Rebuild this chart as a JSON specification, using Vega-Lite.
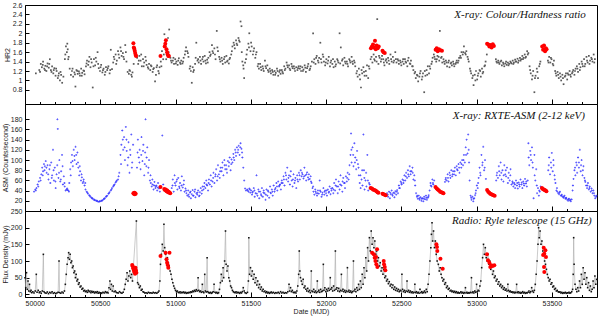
{
"$schema": "https://vega.github.io/schema/vega-lite/v6.json",
"padding": {"left": 0, "top": 0, "right": 2, "bottom": 1},
"spacing": 0,
"bounds": "flush",
"config": {
  "view": {"stroke": "black", "strokeWidth": 1},
  "concat": {"spacing": 0},
  "axis": {"labelFont": "Liberation Sans", "labelFontSize": 7, "titleFont": "Liberation Sans", "titleFontSize": 7, "titleFontWeight": "normal", "domain": false, "grid": false, "tickColor": "black", "labelColor": "#222", "titleColor": "#222"},
  "axisY": {"minExtent": 0}
},
"datasets": {
"hr": [{"t":50072,"v":1.15},{"t":50095,"v":1.22},{"t":50105,"v":1.35},{"t":50112,"v":1.28},{"t":50120,"v":1.4},{"t":50128,"v":1.25},{"t":50135,"v":1.31},{"t":50142,"v":1.2},{"t":50150,"v":1.36},{"t":50158,"v":1.27},{"t":50165,"v":1.45},{"t":50172,"v":1.22},{"t":50180,"v":1.3},{"t":50188,"v":1.15},{"t":50195,"v":1.26},{"t":50203,"v":1.1},{"t":50210,"v":1.2},{"t":50218,"v":1.05},{"t":50225,"v":1.15},{"t":50232,"v":1.0},{"t":50240,"v":1.12},{"t":50247,"v":0.95},{"t":50255,"v":1.08},{"t":50265,"v":1.45},{"t":50272,"v":1.72},{"t":50278,"v":1.6},{"t":50284,"v":1.66},{"t":50290,"v":1.5},{"t":50297,"v":1.25},{"t":50305,"v":1.12},{"t":50312,"v":1.2},{"t":50320,"v":1.08},{"t":50328,"v":1.17},{"t":50335,"v":0.87},{"t":50342,"v":1.22},{"t":50350,"v":1.14},{"t":50358,"v":1.19},{"t":50365,"v":1.1},{"t":50373,"v":1.25},{"t":50380,"v":1.16},{"t":50388,"v":1.21},{"t":50396,"v":1.13},{"t":50405,"v":1.3},{"t":50412,"v":1.42},{"t":50420,"v":1.33},{"t":50428,"v":1.5},{"t":50435,"v":1.28},{"t":50443,"v":1.38},{"t":50450,"v":0.85},{"t":50458,"v":1.45},{"t":50466,"v":1.32},{"t":50474,"v":1.4},{"t":50482,"v":1.6},{"t":50490,"v":1.26},{"t":50498,"v":1.2},{"t":50506,"v":1.33},{"t":50514,"v":1.17},{"t":50522,"v":1.25},{"t":50530,"v":1.12},{"t":50538,"v":1.28},{"t":50546,"v":1.22},{"t":50554,"v":1.3},{"t":50562,"v":1.15},{"t":50570,"v":1.65},{"t":50578,"v":1.24},{"t":50586,"v":1.38},{"t":50594,"v":1.45},{"t":50602,"v":1.55},{"t":50610,"v":1.42},{"t":50618,"v":1.62},{"t":50626,"v":1.48},{"t":50634,"v":1.7},{"t":50642,"v":1.52},{"t":50650,"v":1.58},{"t":50658,"v":1.45},{"t":50666,"v":1.75},{"t":50674,"v":1.4},{"t":50682,"v":1.18},{"t":50690,"v":1.14},{"t":50698,"v":1.2},{"t":50706,"v":1.12},{"t":50714,"v":1.17},{"t":50722,"v":1.35},{"t":50745,"v":1.48},{"t":50752,"v":1.35},{"t":50760,"v":1.52},{"t":50768,"v":1.42},{"t":50776,"v":1.3},{"t":50784,"v":1.45},{"t":50792,"v":1.38},{"t":50800,"v":1.5},{"t":50808,"v":1.33},{"t":50816,"v":1.28},{"t":50824,"v":1.35},{"t":50832,"v":1.22},{"t":50840,"v":1.3},{"t":50848,"v":1.18},{"t":50856,"v":1.26},{"t":50864,"v":0.98},{"t":50870,"v":1.12},{"t":50878,"v":1.32},{"t":50886,"v":1.2},{"t":50894,"v":1.28},{"t":50902,"v":1.4},{"t":50910,"v":1.62},{"t":50918,"v":1.45},{"t":50926,"v":1.98},{"t":50934,"v":1.72},{"t":50942,"v":1.55},{"t":50950,"v":1.9},{"t":50958,"v":2.08},{"t":50966,"v":1.48},{"t":50974,"v":1.38},{"t":50982,"v":1.42},{"t":50990,"v":1.35},{"t":50998,"v":1.45},{"t":51006,"v":1.4},{"t":51014,"v":1.33},{"t":51022,"v":1.47},{"t":51030,"v":1.38},{"t":51038,"v":1.42},{"t":51046,"v":1.36},{"t":51054,"v":1.48},{"t":51062,"v":1.55},{"t":51070,"v":1.7},{"t":51078,"v":1.62},{"t":51086,"v":1.5},{"t":51094,"v":1.25},{"t":51102,"v":1.2},{"t":51108,"v":0.95},{"t":51114,"v":1.28},{"t":51122,"v":1.22},{"t":51130,"v":1.35},{"t":51138,"v":1.8},{"t":51146,"v":1.42},{"t":51154,"v":1.38},{"t":51162,"v":1.5},{"t":51170,"v":1.35},{"t":51178,"v":1.45},{"t":51186,"v":1.4},{"t":51194,"v":1.52},{"t":51202,"v":1.36},{"t":51210,"v":1.44},{"t":51218,"v":1.48},{"t":51226,"v":1.6},{"t":51234,"v":1.55},{"t":51242,"v":1.75},{"t":51250,"v":1.58},{"t":51258,"v":1.68},{"t":51266,"v":1.45},{"t":51274,"v":2.05},{"t":51282,"v":1.62},{"t":51290,"v":1.5},{"t":51298,"v":1.4},{"t":51306,"v":1.48},{"t":51314,"v":1.35},{"t":51322,"v":1.45},{"t":51330,"v":1.38},{"t":51338,"v":1.52},{"t":51346,"v":1.42},{"t":51354,"v":1.36},{"t":51362,"v":1.48},{"t":51370,"v":1.55},{"t":51378,"v":1.72},{"t":51386,"v":1.8},{"t":51394,"v":1.68},{"t":51402,"v":1.85},{"t":51410,"v":1.75},{"t":51418,"v":1.9},{"t":51426,"v":1.82},{"t":51432,"v":2.25},{"t":51438,"v":2.15},{"t":51444,"v":1.4},{"t":51450,"v":1.32},{"t":51456,"v":1.05},{"t":51462,"v":1.38},{"t":51468,"v":1.45},{"t":51476,"v":1.65},{"t":51484,"v":1.78},{"t":51490,"v":2.0},{"t":51498,"v":1.62},{"t":51506,"v":1.72},{"t":51514,"v":1.55},{"t":51522,"v":1.68},{"t":51530,"v":1.48},{"t":51538,"v":1.6},{"t":51546,"v":1.3},{"t":51554,"v":1.25},{"t":51562,"v":1.35},{"t":51570,"v":1.22},{"t":51578,"v":1.3},{"t":51586,"v":1.2},{"t":51594,"v":1.42},{"t":51602,"v":1.26},{"t":51610,"v":1.32},{"t":51618,"v":1.18},{"t":51626,"v":1.25},{"t":51634,"v":1.15},{"t":51642,"v":1.22},{"t":51650,"v":1.12},{"t":51658,"v":1.2},{"t":51666,"v":1.16},{"t":51674,"v":1.25},{"t":51682,"v":1.1},{"t":51690,"v":1.18},{"t":51698,"v":1.14},{"t":51706,"v":1.22},{"t":51714,"v":1.15},{"t":51722,"v":1.3},{"t":51730,"v":1.25},{"t":51738,"v":1.38},{"t":51746,"v":1.28},{"t":51754,"v":1.32},{"t":51762,"v":1.22},{"t":51770,"v":1.35},{"t":51778,"v":1.26},{"t":51786,"v":1.3},{"t":51794,"v":1.2},{"t":51802,"v":1.28},{"t":51810,"v":1.22},{"t":51818,"v":1.3},{"t":51826,"v":1.25},{"t":51834,"v":1.2},{"t":51842,"v":1.28},{"t":51850,"v":1.23},{"t":51858,"v":1.32},{"t":51866,"v":1.18},{"t":51874,"v":1.26},{"t":51882,"v":1.35},{"t":51890,"v":1.22},{"t":51898,"v":1.3},{"t":51906,"v":1.4},{"t":51914,"v":2.0},{"t":51922,"v":1.45},{"t":51930,"v":1.35},{"t":51938,"v":1.52},{"t":51946,"v":1.42},{"t":51954,"v":1.48},{"t":51962,"v":1.8},{"t":51970,"v":1.38},{"t":51978,"v":1.55},{"t":51986,"v":1.4},{"t":51994,"v":1.32},{"t":52002,"v":1.45},{"t":52010,"v":1.36},{"t":52018,"v":1.5},{"t":52026,"v":1.3},{"t":52034,"v":1.42},{"t":52042,"v":1.35},{"t":52050,"v":1.28},{"t":52058,"v":1.4},{"t":52066,"v":1.34},{"t":52074,"v":1.45},{"t":52082,"v":1.38},{"t":52090,"v":2.0},{"t":52098,"v":1.7},{"t":52106,"v":1.42},{"t":52114,"v":1.32},{"t":52122,"v":1.48},{"t":52130,"v":1.36},{"t":52138,"v":1.4},{"t":52146,"v":1.3},{"t":52154,"v":1.45},{"t":52162,"v":1.38},{"t":52170,"v":1.5},{"t":52178,"v":1.35},{"t":52186,"v":1.42},{"t":52194,"v":1.3},{"t":52202,"v":1.15},{"t":52210,"v":1.08},{"t":52218,"v":1.25},{"t":52226,"v":1.02},{"t":52232,"v":0.85},{"t":52240,"v":1.15},{"t":52248,"v":1.28},{"t":52256,"v":1.1},{"t":52264,"v":1.2},{"t":52272,"v":1.32},{"t":52280,"v":1.05},{"t":52288,"v":1.25},{"t":52296,"v":1.45},{"t":52308,"v":1.38},{"t":52316,"v":1.55},{"t":52324,"v":1.42},{"t":52332,"v":1.5},{"t":52340,"v":2.3},{"t":52348,"v":1.35},{"t":52356,"v":1.48},{"t":52364,"v":1.4},{"t":52372,"v":1.52},{"t":52380,"v":1.45},{"t":52388,"v":1.32},{"t":52396,"v":1.42},{"t":52404,"v":1.38},{"t":52412,"v":1.48},{"t":52420,"v":1.35},{"t":52428,"v":1.55},{"t":52436,"v":1.4},{"t":52444,"v":1.5},{"t":52452,"v":1.42},{"t":52460,"v":1.6},{"t":52468,"v":1.38},{"t":52476,"v":1.45},{"t":52484,"v":1.35},{"t":52492,"v":1.42},{"t":52500,"v":1.32},{"t":52508,"v":1.4},{"t":52516,"v":1.35},{"t":52524,"v":1.45},{"t":52532,"v":1.38},{"t":52540,"v":1.3},{"t":52548,"v":1.48},{"t":52556,"v":1.36},{"t":52564,"v":1.42},{"t":52572,"v":1.3},{"t":52580,"v":1.22},{"t":52588,"v":1.15},{"t":52596,"v":1.05},{"t":52604,"v":1.12},{"t":52612,"v":0.98},{"t":52620,"v":1.08},{"t":52628,"v":1.2},{"t":52636,"v":1.02},{"t":52644,"v":1.15},{"t":52652,"v":0.75},{"t":52660,"v":1.1},{"t":52668,"v":1.22},{"t":52676,"v":1.3},{"t":52684,"v":1.15},{"t":52692,"v":1.25},{"t":52700,"v":1.35},{"t":52708,"v":1.48},{"t":52716,"v":1.55},{"t":52724,"v":1.45},{"t":52732,"v":1.4},{"t":52740,"v":1.52},{"t":52748,"v":1.5},{"t":52756,"v":2.05},{"t":52764,"v":1.48},{"t":52772,"v":1.38},{"t":52780,"v":1.45},{"t":52788,"v":1.35},{"t":52796,"v":1.42},{"t":52804,"v":1.3},{"t":52812,"v":1.38},{"t":52820,"v":1.28},{"t":52828,"v":1.36},{"t":52836,"v":1.32},{"t":52844,"v":1.4},{"t":52852,"v":1.3},{"t":52860,"v":1.35},{"t":52868,"v":1.42},{"t":52876,"v":1.38},{"t":52884,"v":1.48},{"t":52892,"v":1.52},{"t":52900,"v":1.6},{"t":52908,"v":1.55},{"t":52916,"v":1.72},{"t":52924,"v":1.58},{"t":52932,"v":1.62},{"t":52940,"v":1.5},{"t":52948,"v":1.4},{"t":52956,"v":1.25},{"t":52964,"v":1.15},{"t":52972,"v":1.05},{"t":52980,"v":0.9},{"t":52988,"v":1.12},{"t":52996,"v":1.2},{"t":53004,"v":1.02},{"t":53012,"v":1.15},{"t":53020,"v":1.22},{"t":53028,"v":1.08},{"t":53036,"v":1.25},{"t":53044,"v":1.18},{"t":53052,"v":1.3},{"t":53060,"v":1.4},{"t":53068,"v":1.55},{"t":53128,"v":1.45},{"t":53136,"v":1.38},{"t":53144,"v":1.42},{"t":53152,"v":1.35},{"t":53160,"v":1.4},{"t":53168,"v":1.32},{"t":53176,"v":1.38},{"t":53184,"v":1.3},{"t":53192,"v":1.36},{"t":53200,"v":1.33},{"t":53208,"v":1.38},{"t":53216,"v":1.35},{"t":53224,"v":1.4},{"t":53232,"v":1.36},{"t":53240,"v":1.42},{"t":53248,"v":1.38},{"t":53256,"v":1.44},{"t":53264,"v":1.4},{"t":53272,"v":1.46},{"t":53280,"v":1.42},{"t":53288,"v":1.48},{"t":53296,"v":1.45},{"t":53304,"v":1.52},{"t":53312,"v":1.48},{"t":53320,"v":1.55},{"t":53328,"v":1.5},{"t":53336,"v":1.62},{"t":53344,"v":1.58},{"t":53352,"v":1.3},{"t":53360,"v":1.15},{"t":53368,"v":1.02},{"t":53376,"v":1.2},{"t":53384,"v":0.75},{"t":53392,"v":1.1},{"t":53400,"v":1.25},{"t":53408,"v":1.05},{"t":53416,"v":1.3},{"t":53424,"v":1.4},{"t":53474,"v":1.42},{"t":53482,"v":1.5},{"t":53490,"v":1.38},{"t":53498,"v":1.45},{"t":53506,"v":1.35},{"t":53514,"v":1.42},{"t":53522,"v":1.2},{"t":53530,"v":1.1},{"t":53538,"v":1.18},{"t":53546,"v":1.05},{"t":53554,"v":1.15},{"t":53562,"v":1.0},{"t":53570,"v":1.12},{"t":53578,"v":0.92},{"t":53586,"v":1.08},{"t":53594,"v":1.15},{"t":53602,"v":1.02},{"t":53610,"v":1.12},{"t":53618,"v":1.2},{"t":53626,"v":1.08},{"t":53634,"v":1.15},{"t":53642,"v":1.22},{"t":53650,"v":1.12},{"t":53658,"v":1.25},{"t":53666,"v":1.3},{"t":53674,"v":1.18},{"t":53682,"v":1.35},{"t":53690,"v":1.28},{"t":53698,"v":1.4},{"t":53706,"v":1.3},{"t":53714,"v":1.45},{"t":53722,"v":1.35},{"t":53730,"v":1.5},{"t":53738,"v":1.38},{"t":53746,"v":1.52},{"t":53754,"v":1.42},{"t":53762,"v":1.48},{"t":53770,"v":1.4},{"t":53778,"v":1.55},{"t":53786,"v":1.45},
{"t":50100,"v":1.18},{"t":50118,"v":1.33},{"t":50133,"v":1.22},{"t":50147,"v":1.3},{"t":50161,"v":1.35},{"t":50176,"v":1.18},{"t":50191,"v":1.22},{"t":50207,"v":1.25},{"t":50222,"v":1.1},{"t":50236,"v":1.18},{"t":50268,"v":1.55},{"t":50281,"v":1.78},{"t":50287,"v":1.45},{"t":50316,"v":1.25},{"t":50332,"v":1.13},{"t":50347,"v":1.2},{"t":50362,"v":1.15},{"t":50377,"v":1.1},{"t":50393,"v":1.2},{"t":50409,"v":1.36},{"t":50424,"v":1.4},{"t":50439,"v":1.45},{"t":50455,"v":1.3},{"t":50470,"v":1.48},{"t":50486,"v":1.35},{"t":50502,"v":1.28},{"t":50518,"v":1.22},{"t":50534,"v":1.18},{"t":50550,"v":1.26},{"t":50566,"v":1.22},{"t":50590,"v":1.5},{"t":50606,"v":1.35},{"t":50622,"v":1.55},{"t":50638,"v":1.62},{"t":50654,"v":1.5},{"t":50670,"v":1.6},{"t":50694,"v":1.22},{"t":50710,"v":1.08},{"t":50756,"v":1.42},{"t":50772,"v":1.55},{"t":50788,"v":1.3},{"t":50804,"v":1.42},{"t":50820,"v":1.25},{"t":50836,"v":1.32},{"t":50852,"v":1.24},{"t":50874,"v":1.28},{"t":50890,"v":1.15},{"t":50906,"v":1.3},{"t":50922,"v":1.55},{"t":50938,"v":1.45},{"t":50954,"v":1.6},{"t":50970,"v":1.42},{"t":50986,"v":1.48},{"t":51002,"v":1.36},{"t":51018,"v":1.42},{"t":51034,"v":1.35},{"t":51050,"v":1.4},{"t":51066,"v":1.62},{"t":51082,"v":1.58},{"t":51098,"v":1.3},{"t":51118,"v":1.18},{"t":51134,"v":1.48},{"t":51150,"v":1.45},{"t":51166,"v":1.42},{"t":51182,"v":1.5},{"t":51198,"v":1.42},{"t":51214,"v":1.38},{"t":51230,"v":1.52},{"t":51246,"v":1.62},{"t":51262,"v":1.55},{"t":51278,"v":1.7},{"t":51294,"v":1.45},{"t":51310,"v":1.42},{"t":51326,"v":1.5},{"t":51342,"v":1.4},{"t":51358,"v":1.45},{"t":51374,"v":1.62},{"t":51390,"v":1.75},{"t":51406,"v":1.78},{"t":51422,"v":1.85},{"t":51440,"v":1.6},{"t":51452,"v":1.25},{"t":51472,"v":1.55},{"t":51488,"v":1.7},{"t":51502,"v":1.8},{"t":51518,"v":1.62},{"t":51534,"v":1.55},{"t":51550,"v":1.35},{"t":51566,"v":1.28},{"t":51582,"v":1.25},{"t":51598,"v":1.3},{"t":51614,"v":1.22},{"t":51630,"v":1.2},{"t":51646,"v":1.18},{"t":51662,"v":1.12},{"t":51678,"v":1.2},{"t":51694,"v":1.22},{"t":51710,"v":1.18},{"t":51726,"v":1.22},{"t":51742,"v":1.32},{"t":51758,"v":1.25},{"t":51774,"v":1.3},{"t":51790,"v":1.25},{"t":51814,"v":1.26},{"t":51830,"v":1.3},{"t":51846,"v":1.2},{"t":51862,"v":1.27},{"t":51878,"v":1.3},{"t":51894,"v":1.25},{"t":51918,"v":1.38},{"t":51934,"v":1.48},{"t":51950,"v":1.38},{"t":51966,"v":1.45},{"t":51982,"v":1.5},{"t":51998,"v":1.38},{"t":52014,"v":1.42},{"t":52030,"v":1.38},{"t":52046,"v":1.45},{"t":52062,"v":1.3},{"t":52078,"v":1.42},{"t":52094,"v":1.36},{"t":52110,"v":1.45},{"t":52126,"v":1.4},{"t":52142,"v":1.35},{"t":52158,"v":1.42},{"t":52174,"v":1.4},{"t":52190,"v":1.38},{"t":52206,"v":1.2},{"t":52222,"v":1.12},{"t":52236,"v":1.22},{"t":52252,"v":1.18},{"t":52268,"v":1.1},{"t":52284,"v":1.3},{"t":52302,"v":1.5},{"t":52320,"v":1.45},{"t":52336,"v":1.4},{"t":52352,"v":1.52},{"t":52368,"v":1.45},{"t":52384,"v":1.38},{"t":52400,"v":1.45},{"t":52416,"v":1.42},{"t":52432,"v":1.45},{"t":52448,"v":1.38},{"t":52464,"v":1.45},{"t":52480,"v":1.42},{"t":52496,"v":1.38},{"t":52512,"v":1.45},{"t":52528,"v":1.4},{"t":52544,"v":1.42},{"t":52560,"v":1.35},{"t":52576,"v":1.3},{"t":52592,"v":1.18},{"t":52608,"v":1.1},{"t":52624,"v":1.15},{"t":52640,"v":1.08},{"t":52656,"v":1.2},{"t":52672,"v":1.12},{"t":52688,"v":1.3},{"t":52704,"v":1.4},{"t":52720,"v":1.5},{"t":52736,"v":1.45},{"t":52752,"v":1.42},{"t":52768,"v":1.5},{"t":52784,"v":1.4},{"t":52800,"v":1.38},{"t":52816,"v":1.42},{"t":52832,"v":1.38},{"t":52848,"v":1.35},{"t":52864,"v":1.38},{"t":52880,"v":1.42},{"t":52896,"v":1.48},{"t":52912,"v":1.6},{"t":52928,"v":1.55},{"t":52944,"v":1.45},{"t":52960,"v":1.2},{"t":52976,"v":1.1},{"t":52992,"v":1.0},{"t":53008,"v":1.1},{"t":53024,"v":1.2},{"t":53040,"v":1.15},{"t":53056,"v":1.32},{"t":53132,"v":1.4},{"t":53148,"v":1.38},{"t":53164,"v":1.42},{"t":53180,"v":1.35},{"t":53196,"v":1.4},{"t":53212,"v":1.32},{"t":53228,"v":1.38},{"t":53244,"v":1.35},{"t":53260,"v":1.4},{"t":53276,"v":1.38},{"t":53292,"v":1.42},{"t":53308,"v":1.45},{"t":53324,"v":1.48},{"t":53340,"v":1.55},{"t":53356,"v":1.22},{"t":53372,"v":1.1},{"t":53388,"v":1.05},{"t":53404,"v":1.18},{"t":53420,"v":1.35},{"t":53478,"v":1.38},{"t":53494,"v":1.48},{"t":53510,"v":1.32},{"t":53526,"v":1.15},{"t":53542,"v":1.12},{"t":53558,"v":1.08},{"t":53574,"v":1.05},{"t":53590,"v":1.1},{"t":53606,"v":1.15},{"t":53622,"v":1.12},{"t":53638,"v":1.18},{"t":53654,"v":1.2},{"t":53670,"v":1.25},{"t":53686,"v":1.22},{"t":53702,"v":1.35},{"t":53718,"v":1.3},{"t":53734,"v":1.42},{"t":53750,"v":1.35},{"t":53766,"v":1.45},{"t":53782,"v":1.38}],
"hrr": [{"t":50720,"v":1.79},{"t":50723,"v":1.7},{"t":50726,"v":1.67},{"t":50729,"v":1.63},{"t":50732,"v":1.58},{"t":50735,"v":1.54},{"t":50738,"v":1.52},{"t":50900,"v":1.52},{"t":50928,"v":1.72},{"t":50932,"v":1.78},{"t":50936,"v":1.85},{"t":50940,"v":1.66},{"t":50944,"v":1.6},{"t":50948,"v":1.55},{"t":50952,"v":1.52},{"t":50956,"v":1.52},{"t":52298,"v":1.68},{"t":52305,"v":1.72},{"t":52312,"v":1.76},{"t":52318,"v":1.7},{"t":52325,"v":1.84},{"t":52330,"v":1.66},{"t":52336,"v":1.74},{"t":52343,"v":1.68},{"t":52350,"v":1.72},{"t":52375,"v":1.63},{"t":52382,"v":1.6},{"t":52390,"v":1.58},{"t":52728,"v":1.65},{"t":52735,"v":1.68},{"t":52742,"v":1.62},{"t":52750,"v":1.66},{"t":52760,"v":1.64},{"t":52770,"v":1.63},{"t":53070,"v":1.78},{"t":53078,"v":1.76},{"t":53085,"v":1.72},{"t":53092,"v":1.75},{"t":53100,"v":1.7},{"t":53108,"v":1.77},{"t":53115,"v":1.73},{"t":53436,"v":1.72},{"t":53442,"v":1.65},{"t":53448,"v":1.74},{"t":53455,"v":1.62},{"t":53460,"v":1.68},{"t":53465,"v":1.66}],
"asm": [{"t":50060,"v":38},{"t":50068,"v":42},{"t":50076,"v":45},{"t":50084,"v":52},{"t":50092,"v":58},{"t":50100,"v":65},{"t":50108,"v":72},{"t":50114,"v":85},{"t":50120,"v":78},{"t":50126,"v":92},{"t":50132,"v":88},{"t":50138,"v":98},{"t":50144,"v":75},{"t":50150,"v":90},{"t":50156,"v":62},{"t":50162,"v":82},{"t":50168,"v":55},{"t":50174,"v":95},{"t":50180,"v":70},{"t":50186,"v":120},{"t":50192,"v":60},{"t":50198,"v":85},{"t":50204,"v":45},{"t":50210,"v":72},{"t":50215,"v":180},{"t":50218,"v":161},{"t":50222,"v":65},{"t":50228,"v":100},{"t":50234,"v":58},{"t":50240,"v":78},{"t":50246,"v":110},{"t":50252,"v":52},{"t":50258,"v":68},{"t":50264,"v":48},{"t":50270,"v":40},{"t":50276,"v":42},{"t":50282,"v":41},{"t":50288,"v":40},{"t":50294,"v":55},{"t":50300,"v":82},{"t":50306,"v":95},{"t":50312,"v":110},{"t":50318,"v":88},{"t":50324,"v":120},{"t":50330,"v":100},{"t":50336,"v":126},{"t":50342,"v":92},{"t":50348,"v":115},{"t":50354,"v":85},{"t":50360,"v":70},{"t":50366,"v":78},{"t":50372,"v":60},{"t":50378,"v":66},{"t":50384,"v":55},{"t":50390,"v":62},{"t":50396,"v":50},{"t":50402,"v":42},{"t":50410,"v":38},{"t":50418,"v":34},{"t":50426,"v":31},{"t":50434,"v":28},{"t":50442,"v":26},{"t":50450,"v":24},{"t":50458,"v":22},{"t":50466,"v":21},{"t":50474,"v":20},{"t":50482,"v":19},{"t":50490,"v":18},{"t":50498,"v":19},{"t":50506,"v":20},{"t":50514,"v":21},{"t":50522,"v":23},{"t":50530,"v":25},{"t":50538,"v":28},{"t":50546,"v":30},{"t":50554,"v":34},{"t":50562,"v":37},{"t":50570,"v":40},{"t":50578,"v":45},{"t":50586,"v":48},{"t":50594,"v":52},{"t":50602,"v":56},{"t":50610,"v":60},{"t":50618,"v":62},{"t":50626,"v":75},{"t":50634,"v":110},{"t":50640,"v":130},{"t":50646,"v":158},{"t":50652,"v":120},{"t":50658,"v":145},{"t":50664,"v":100},{"t":50670,"v":165},{"t":50676,"v":118},{"t":50682,"v":90},{"t":50688,"v":135},{"t":50694,"v":75},{"t":50700,"v":110},{"t":50706,"v":150},{"t":50712,"v":95},{"t":50718,"v":130},{"t":50744,"v":85},{"t":50750,"v":140},{"t":50756,"v":105},{"t":50762,"v":120},{"t":50768,"v":82},{"t":50774,"v":145},{"t":50780,"v":98},{"t":50786,"v":130},{"t":50792,"v":70},{"t":50798,"v":115},{"t":50801,"v":180},{"t":50806,"v":88},{"t":50812,"v":125},{"t":50818,"v":75},{"t":50824,"v":100},{"t":50830,"v":60},{"t":50836,"v":55},{"t":50842,"v":48},{"t":50848,"v":52},{"t":50854,"v":42},{"t":50860,"v":57},{"t":50866,"v":45},{"t":50872,"v":50},{"t":50878,"v":40},{"t":50884,"v":55},{"t":50890,"v":44},{"t":50896,"v":38},{"t":50912,"v":148},{"t":50918,"v":52},{"t":50975,"v":45},{"t":50982,"v":62},{"t":50988,"v":38},{"t":50994,"v":70},{"t":51000,"v":50},{"t":51006,"v":58},{"t":51012,"v":42},{"t":51018,"v":65},{"t":51024,"v":48},{"t":51030,"v":55},{"t":51036,"v":40},{"t":51042,"v":68},{"t":51048,"v":46},{"t":51054,"v":52},{"t":51060,"v":38},{"t":51066,"v":44},{"t":51072,"v":35},{"t":51078,"v":30},{"t":51084,"v":40},{"t":51090,"v":28},{"t":51096,"v":36},{"t":51102,"v":25},{"t":51108,"v":33},{"t":51114,"v":41},{"t":51120,"v":30},{"t":51126,"v":38},{"t":51132,"v":27},{"t":51138,"v":35},{"t":51144,"v":32},{"t":51150,"v":40},{"t":51156,"v":29},{"t":51162,"v":37},{"t":51168,"v":45},{"t":51174,"v":34},{"t":51180,"v":48},{"t":51186,"v":42},{"t":51192,"v":55},{"t":51198,"v":45},{"t":51204,"v":60},{"t":51210,"v":50},{"t":51216,"v":40},{"t":51222,"v":62},{"t":51228,"v":52},{"t":51234,"v":70},{"t":51240,"v":48},{"t":51246,"v":58},{"t":51252,"v":75},{"t":51258,"v":55},{"t":51264,"v":68},{"t":51270,"v":82},{"t":51276,"v":60},{"t":51282,"v":90},{"t":51288,"v":72},{"t":51294,"v":65},{"t":51300,"v":85},{"t":51306,"v":78},{"t":51312,"v":95},{"t":51318,"v":70},{"t":51324,"v":100},{"t":51330,"v":82},{"t":51336,"v":90},{"t":51342,"v":75},{"t":51348,"v":98},{"t":51354,"v":88},{"t":51360,"v":105},{"t":51366,"v":80},{"t":51372,"v":101},{"t":51378,"v":95},{"t":51384,"v":112},{"t":51390,"v":100},{"t":51396,"v":120},{"t":51402,"v":108},{"t":51408,"v":125},{"t":51414,"v":115},{"t":51420,"v":128},{"t":51426,"v":110},{"t":51432,"v":133},{"t":51438,"v":122},{"t":51444,"v":105},{"t":51450,"v":85},{"t":51456,"v":60},{"t":51462,"v":44},{"t":51468,"v":40},{"t":51476,"v":42},{"t":51484,"v":38},{"t":51490,"v":44},{"t":51496,"v":36},{"t":51502,"v":40},{"t":51508,"v":32},{"t":51514,"v":38},{"t":51520,"v":45},{"t":51526,"v":28},{"t":51532,"v":35},{"t":51538,"v":70},{"t":51544,"v":30},{"t":51550,"v":42},{"t":51556,"v":25},{"t":51562,"v":38},{"t":51568,"v":33},{"t":51574,"v":45},{"t":51580,"v":28},{"t":51586,"v":40},{"t":51592,"v":35},{"t":51598,"v":22},{"t":51604,"v":42},{"t":51610,"v":30},{"t":51616,"v":38},{"t":51622,"v":26},{"t":51628,"v":48},{"t":51634,"v":35},{"t":51640,"v":42},{"t":51646,"v":30},{"t":51652,"v":50},{"t":51658,"v":38},{"t":51664,"v":45},{"t":51670,"v":55},{"t":51676,"v":40},{"t":51682,"v":58},{"t":51688,"v":48},{"t":51694,"v":52},{"t":51700,"v":42},{"t":51706,"v":60},{"t":51712,"v":55},{"t":51718,"v":68},{"t":51724,"v":50},{"t":51730,"v":75},{"t":51736,"v":62},{"t":51742,"v":85},{"t":51748,"v":58},{"t":51754,"v":70},{"t":51760,"v":52},{"t":51766,"v":78},{"t":51772,"v":60},{"t":51778,"v":48},{"t":51784,"v":72},{"t":51790,"v":55},{"t":51796,"v":65},{"t":51802,"v":45},{"t":51808,"v":70},{"t":51814,"v":58},{"t":51820,"v":75},{"t":51826,"v":62},{"t":51832,"v":80},{"t":51838,"v":68},{"t":51844,"v":72},{"t":51850,"v":64},{"t":51856,"v":85},{"t":51862,"v":70},{"t":51868,"v":60},{"t":51874,"v":76},{"t":51880,"v":66},{"t":51886,"v":72},{"t":51892,"v":63},{"t":51898,"v":68},{"t":51904,"v":55},{"t":51910,"v":45},{"t":51916,"v":38},{"t":51922,"v":32},{"t":51928,"v":42},{"t":51934,"v":35},{"t":51940,"v":30},{"t":51946,"v":40},{"t":51952,"v":34},{"t":51958,"v":60},{"t":51964,"v":38},{"t":51970,"v":28},{"t":51976,"v":36},{"t":51982,"v":45},{"t":51988,"v":32},{"t":51994,"v":40},{"t":52000,"v":35},{"t":52006,"v":30},{"t":52012,"v":42},{"t":52018,"v":36},{"t":52024,"v":48},{"t":52030,"v":33},{"t":52036,"v":40},{"t":52042,"v":45},{"t":52048,"v":35},{"t":52054,"v":55},{"t":52060,"v":40},{"t":52066,"v":62},{"t":52072,"v":48},{"t":52078,"v":35},{"t":52084,"v":58},{"t":52090,"v":42},{"t":52096,"v":70},{"t":52102,"v":50},{"t":52108,"v":38},{"t":52114,"v":65},{"t":52120,"v":55},{"t":52126,"v":45},{"t":52132,"v":68},{"t":52138,"v":58},{"t":52144,"v":75},{"t":52150,"v":62},{"t":52156,"v":90},{"t":52162,"v":110},{"t":52166,"v":152},{"t":52170,"v":95},{"t":52176,"v":125},{"t":52182,"v":88},{"t":52188,"v":133},{"t":52194,"v":105},{"t":52200,"v":82},{"t":52206,"v":118},{"t":52212,"v":92},{"t":52218,"v":70},{"t":52224,"v":55},{"t":52230,"v":45},{"t":52236,"v":62},{"t":52242,"v":50},{"t":52248,"v":150},{"t":52252,"v":80},{"t":52256,"v":42},{"t":52262,"v":60},{"t":52268,"v":48},{"t":52274,"v":110},{"t":52280,"v":40},{"t":52286,"v":55},{"t":52292,"v":45},{"t":52405,"v":35},{"t":52412,"v":28},{"t":52418,"v":38},{"t":52424,"v":25},{"t":52430,"v":33},{"t":52436,"v":40},{"t":52442,"v":30},{"t":52448,"v":36},{"t":52454,"v":27},{"t":52460,"v":39},{"t":52466,"v":32},{"t":52472,"v":41},{"t":52478,"v":35},{"t":52484,"v":50},{"t":52490,"v":45},{"t":52496,"v":58},{"t":52502,"v":52},{"t":52508,"v":62},{"t":52514,"v":55},{"t":52520,"v":70},{"t":52526,"v":60},{"t":52532,"v":75},{"t":52538,"v":65},{"t":52544,"v":80},{"t":52550,"v":68},{"t":52556,"v":88},{"t":52562,"v":72},{"t":52568,"v":78},{"t":52574,"v":85},{"t":52580,"v":62},{"t":52586,"v":70},{"t":52592,"v":50},{"t":52598,"v":35},{"t":52604,"v":28},{"t":52610,"v":24},{"t":52616,"v":30},{"t":52622,"v":22},{"t":52628,"v":27},{"t":52634,"v":20},{"t":52640,"v":25},{"t":52646,"v":19},{"t":52652,"v":28},{"t":52658,"v":23},{"t":52664,"v":30},{"t":52670,"v":22},{"t":52676,"v":26},{"t":52682,"v":31},{"t":52688,"v":40},{"t":52694,"v":55},{"t":52700,"v":48},{"t":52706,"v":62},{"t":52712,"v":52},{"t":52718,"v":60},{"t":52790,"v":57},{"t":52796,"v":65},{"t":52802,"v":60},{"t":52808,"v":72},{"t":52814,"v":58},{"t":52820,"v":75},{"t":52826,"v":65},{"t":52832,"v":80},{"t":52838,"v":68},{"t":52844,"v":78},{"t":52850,"v":72},{"t":52856,"v":85},{"t":52862,"v":70},{"t":52868,"v":88},{"t":52874,"v":80},{"t":52880,"v":92},{"t":52886,"v":75},{"t":52892,"v":95},{"t":52898,"v":85},{"t":52904,"v":100},{"t":52910,"v":90},{"t":52916,"v":110},{"t":52922,"v":95},{"t":52928,"v":125},{"t":52934,"v":140},{"t":52940,"v":113},{"t":52944,"v":150},{"t":52948,"v":120},{"t":52954,"v":60},{"t":52960,"v":30},{"t":52966,"v":22},{"t":52972,"v":28},{"t":52978,"v":19},{"t":52984,"v":25},{"t":52990,"v":31},{"t":52996,"v":40},{"t":53002,"v":50},{"t":53008,"v":45},{"t":53014,"v":65},{"t":53020,"v":85},{"t":53026,"v":70},{"t":53032,"v":110},{"t":53038,"v":90},{"t":53044,"v":126},{"t":53050,"v":80},{"t":53056,"v":100},{"t":53062,"v":63},{"t":53130,"v":60},{"t":53136,"v":75},{"t":53142,"v":65},{"t":53148,"v":88},{"t":53154,"v":70},{"t":53160,"v":95},{"t":53166,"v":62},{"t":53172,"v":80},{"t":53178,"v":58},{"t":53184,"v":90},{"t":53190,"v":72},{"t":53196,"v":68},{"t":53202,"v":85},{"t":53208,"v":55},{"t":53214,"v":75},{"t":53220,"v":60},{"t":53226,"v":82},{"t":53232,"v":52},{"t":53238,"v":58},{"t":53244,"v":48},{"t":53250,"v":55},{"t":53256,"v":45},{"t":53262,"v":60},{"t":53268,"v":50},{"t":53274,"v":44},{"t":53280,"v":56},{"t":53286,"v":48},{"t":53292,"v":62},{"t":53298,"v":52},{"t":53304,"v":45},{"t":53310,"v":58},{"t":53316,"v":50},{"t":53322,"v":63},{"t":53328,"v":54},{"t":53334,"v":48},{"t":53340,"v":60},{"t":53344,"v":133},{"t":53350,"v":90},{"t":53356,"v":118},{"t":53362,"v":100},{"t":53368,"v":125},{"t":53374,"v":85},{"t":53379,"v":25},{"t":53384,"v":110},{"t":53390,"v":60},{"t":53396,"v":82},{"t":53402,"v":35},{"t":53408,"v":45},{"t":53414,"v":30},{"t":53420,"v":38},{"t":53426,"v":48},{"t":53476,"v":80},{"t":53482,"v":105},{"t":53488,"v":72},{"t":53494,"v":95},{"t":53500,"v":114},{"t":53506,"v":78},{"t":53512,"v":90},{"t":53518,"v":70},{"t":53524,"v":55},{"t":53530,"v":40},{"t":53536,"v":38},{"t":53542,"v":35},{"t":53548,"v":33},{"t":53554,"v":38},{"t":53560,"v":30},{"t":53566,"v":32},{"t":53572,"v":28},{"t":53578,"v":26},{"t":53584,"v":30},{"t":53590,"v":24},{"t":53596,"v":25},{"t":53602,"v":22},{"t":53608,"v":20},{"t":53614,"v":24},{"t":53620,"v":21},{"t":53626,"v":19},{"t":53632,"v":23},{"t":53638,"v":40},{"t":53644,"v":63},{"t":53650,"v":80},{"t":53656,"v":70},{"t":53662,"v":95},{"t":53668,"v":75},{"t":53674,"v":105},{"t":53680,"v":85},{"t":53686,"v":120},{"t":53692,"v":78},{"t":53698,"v":100},{"t":53704,"v":70},{"t":53710,"v":88},{"t":53716,"v":65},{"t":53722,"v":57},{"t":53728,"v":50},{"t":53734,"v":45},{"t":53740,"v":55},{"t":53746,"v":42},{"t":53752,"v":48},{"t":53758,"v":38},{"t":53764,"v":44},{"t":53770,"v":35},{"t":53776,"v":40},{"t":53782,"v":30},{"t":53788,"v":25},{"t":53794,"v":28},
{"t":50072,"v":40},{"t":50088,"v":48},{"t":50104,"v":60},{"t":50118,"v":70},{"t":50130,"v":80},{"t":50142,"v":85},{"t":50154,"v":72},{"t":50166,"v":90},{"t":50178,"v":65},{"t":50190,"v":80},{"t":50202,"v":58},{"t":50214,"v":90},{"t":50226,"v":75},{"t":50238,"v":62},{"t":50250,"v":88},{"t":50262,"v":55},{"t":50280,"v":44},{"t":50292,"v":38},{"t":50304,"v":70},{"t":50316,"v":98},{"t":50328,"v":108},{"t":50340,"v":110},{"t":50352,"v":95},{"t":50364,"v":88},{"t":50376,"v":72},{"t":50388,"v":58},{"t":50400,"v":55},{"t":50414,"v":36},{"t":50430,"v":30},{"t":50446,"v":25},{"t":50462,"v":22},{"t":50478,"v":20},{"t":50494,"v":19},{"t":50510,"v":20},{"t":50526,"v":24},{"t":50542,"v":29},{"t":50558,"v":35},{"t":50574,"v":42},{"t":50590,"v":50},{"t":50606,"v":58},{"t":50622,"v":68},{"t":50638,"v":92},{"t":50650,"v":140},{"t":50662,"v":125},{"t":50674,"v":140},{"t":50686,"v":105},{"t":50698,"v":120},{"t":50710,"v":85},{"t":50748,"v":115},{"t":50760,"v":95},{"t":50772,"v":110},{"t":50784,"v":118},{"t":50796,"v":92},{"t":50808,"v":105},{"t":50820,"v":85},{"t":50834,"v":70},{"t":50846,"v":62},{"t":50858,"v":50},{"t":50870,"v":48},{"t":50882,"v":46},{"t":50894,"v":48},{"t":50980,"v":50},{"t":50996,"v":55},{"t":51010,"v":62},{"t":51026,"v":45},{"t":51040,"v":50},{"t":51056,"v":60},{"t":51070,"v":40},{"t":51086,"v":32},{"t":51100,"v":38},{"t":51116,"v":30},{"t":51130,"v":42},{"t":51146,"v":36},{"t":51160,"v":30},{"t":51176,"v":40},{"t":51190,"v":48},{"t":51206,"v":52},{"t":51220,"v":55},{"t":51236,"v":60},{"t":51250,"v":65},{"t":51266,"v":72},{"t":51280,"v":68},{"t":51296,"v":78},{"t":51310,"v":85},{"t":51326,"v":90},{"t":51340,"v":82},{"t":51356,"v":95},{"t":51370,"v":92},{"t":51386,"v":105},{"t":51400,"v":115},{"t":51416,"v":120},{"t":51430,"v":125},{"t":51442,"v":115},{"t":51480,"v":40},{"t":51494,"v":42},{"t":51510,"v":36},{"t":51524,"v":40},{"t":51540,"v":34},{"t":51554,"v":38},{"t":51570,"v":30},{"t":51584,"v":36},{"t":51600,"v":32},{"t":51614,"v":40},{"t":51630,"v":36},{"t":51644,"v":38},{"t":51660,"v":42},{"t":51674,"v":48},{"t":51690,"v":50},{"t":51704,"v":55},{"t":51720,"v":62},{"t":51734,"v":70},{"t":51750,"v":65},{"t":51764,"v":68},{"t":51780,"v":62},{"t":51794,"v":60},{"t":51810,"v":62},{"t":51824,"v":70},{"t":51840,"v":75},{"t":51854,"v":68},{"t":51870,"v":72},{"t":51884,"v":62},{"t":51900,"v":58},{"t":51914,"v":48},{"t":51930,"v":38},{"t":51944,"v":35},{"t":51960,"v":40},{"t":51974,"v":32},{"t":51990,"v":38},{"t":52004,"v":40},{"t":52020,"v":38},{"t":52034,"v":44},{"t":52050,"v":42},{"t":52064,"v":50},{"t":52080,"v":48},{"t":52094,"v":52},{"t":52110,"v":58},{"t":52124,"v":55},{"t":52140,"v":65},{"t":52154,"v":72},{"t":52168,"v":120},{"t":52180,"v":110},{"t":52192,"v":95},{"t":52204,"v":100},{"t":52216,"v":85},{"t":52228,"v":70},{"t":52240,"v":80},{"t":52254,"v":65},{"t":52266,"v":75},{"t":52278,"v":60},{"t":52290,"v":52},{"t":52410,"v":32},{"t":52426,"v":36},{"t":52440,"v":33},{"t":52456,"v":35},{"t":52470,"v":38},{"t":52486,"v":45},{"t":52500,"v":55},{"t":52516,"v":60},{"t":52530,"v":68},{"t":52546,"v":72},{"t":52560,"v":78},{"t":52576,"v":75},{"t":52590,"v":60},{"t":52606,"v":30},{"t":52620,"v":25},{"t":52636,"v":24},{"t":52650,"v":24},{"t":52666,"v":26},{"t":52680,"v":28},{"t":52696,"v":50},{"t":52710,"v":55},{"t":52794,"v":62},{"t":52810,"v":65},{"t":52824,"v":70},{"t":52840,"v":72},{"t":52854,"v":78},{"t":52870,"v":82},{"t":52884,"v":85},{"t":52900,"v":92},{"t":52914,"v":100},{"t":52930,"v":110},{"t":52950,"v":95},{"t":52964,"v":26},{"t":52980,"v":24},{"t":52994,"v":35},{"t":53010,"v":55},{"t":53024,"v":75},{"t":53040,"v":95},{"t":53054,"v":85},{"t":53134,"v":70},{"t":53150,"v":78},{"t":53164,"v":75},{"t":53180,"v":70},{"t":53194,"v":80},{"t":53210,"v":65},{"t":53224,"v":70},{"t":53240,"v":55},{"t":53254,"v":52},{"t":53270,"v":55},{"t":53284,"v":52},{"t":53300,"v":56},{"t":53314,"v":54},{"t":53330,"v":58},{"t":53346,"v":105},{"t":53360,"v":110},{"t":53372,"v":95},{"t":53386,"v":70},{"t":53400,"v":50},{"t":53416,"v":40},{"t":53480,"v":90},{"t":53496,"v":85},{"t":53510,"v":100},{"t":53520,"v":62},{"t":53534,"v":45},{"t":53550,"v":36},{"t":53564,"v":30},{"t":53580,"v":28},{"t":53594,"v":26},{"t":53610,"v":23},{"t":53624,"v":22},{"t":53640,"v":50},{"t":53654,"v":85},{"t":53666,"v":90},{"t":53680,"v":95},{"t":53694,"v":90},{"t":53706,"v":80},{"t":53720,"v":60},{"t":53736,"v":50},{"t":53750,"v":45},{"t":53766,"v":40},{"t":53780,"v":35},{"t":53796,"v":30}],
"asmr": [{"t":50720,"v":35},{"t":50723,"v":34},{"t":50726,"v":36},{"t":50729,"v":33},{"t":50732,"v":35},{"t":50735,"v":34},{"t":50900,"v":47},{"t":50925,"v":43},{"t":50930,"v":41},{"t":50935,"v":42},{"t":50940,"v":39},{"t":50945,"v":40},{"t":50950,"v":37},{"t":50955,"v":38},{"t":50960,"v":36},{"t":50965,"v":35},{"t":52296,"v":45},{"t":52305,"v":44},{"t":52312,"v":42},{"t":52320,"v":41},{"t":52328,"v":40},{"t":52335,"v":39},{"t":52342,"v":37},{"t":52348,"v":36},{"t":52375,"v":34},{"t":52382,"v":33},{"t":52390,"v":32},{"t":52396,"v":31},{"t":52727,"v":47},{"t":52735,"v":44},{"t":52742,"v":42},{"t":52750,"v":40},{"t":52758,"v":38},{"t":52766,"v":37},{"t":52774,"v":36},{"t":52780,"v":35},{"t":53070,"v":41},{"t":53077,"v":38},{"t":53084,"v":36},{"t":53091,"v":34},{"t":53098,"v":33},{"t":53105,"v":32},{"t":53112,"v":31},{"t":53120,"v":30},{"t":53434,"v":45},{"t":53440,"v":43},{"t":53446,"v":42},{"t":53452,"v":41},{"t":53458,"v":40},{"t":53464,"v":39}],
"rad": [{"t":50000,"v":50},{"t":50005,"v":20},{"t":50010,"v":65},{"t":50015,"v":15},{"t":50020,"v":40},{"t":50025,"v":10},{"t":50030,"v":30},{"t":50035,"v":8},{"t":50040,"v":12},{"t":50045,"v":5},{"t":50052,"v":8},{"t":50060,"v":4},{"t":50068,"v":10},{"t":50075,"v":60},{"t":50080,"v":6},{"t":50088,"v":12},{"t":50095,"v":5},{"t":50100,"v":8},{"t":50108,"v":3},{"t":50115,"v":10},{"t":50122,"v":120},{"t":50126,"v":8},{"t":50132,"v":5},{"t":50140,"v":3},{"t":50148,"v":7},{"t":50156,"v":2},{"t":50164,"v":6},{"t":50172,"v":4},{"t":50180,"v":8},{"t":50188,"v":3},{"t":50196,"v":5},{"t":50204,"v":2},{"t":50212,"v":4},{"t":50220,"v":6},{"t":50226,"v":100},{"t":50230,"v":5},{"t":50238,"v":3},{"t":50246,"v":7},{"t":50254,"v":4},{"t":50262,"v":10},{"t":50268,"v":30},{"t":50274,"v":60},{"t":50280,"v":90},{"t":50286,"v":110},{"t":50290,"v":125},{"t":50295,"v":105},{"t":50300,"v":120},{"t":50305,"v":95},{"t":50310,"v":100},{"t":50315,"v":80},{"t":50320,"v":85},{"t":50325,"v":65},{"t":50330,"v":70},{"t":50335,"v":50},{"t":50340,"v":60},{"t":50345,"v":40},{"t":50350,"v":45},{"t":50355,"v":30},{"t":50360,"v":35},{"t":50366,"v":22},{"t":50372,"v":25},{"t":50378,"v":15},{"t":50384,"v":18},{"t":50390,"v":10},{"t":50396,"v":12},{"t":50402,"v":8},{"t":50408,"v":10},{"t":50414,"v":6},{"t":50420,"v":12},{"t":50426,"v":8},{"t":50432,"v":10},{"t":50438,"v":5},{"t":50444,"v":9},{"t":50450,"v":6},{"t":50456,"v":8},{"t":50462,"v":4},{"t":50468,"v":7},{"t":50474,"v":5},{"t":50480,"v":8},{"t":50486,"v":3},{"t":50492,"v":6},{"t":50498,"v":4},{"t":50504,"v":5},{"t":50510,"v":3},{"t":50518,"v":6},{"t":50526,"v":4},{"t":50534,"v":8},{"t":50540,"v":5},{"t":50546,"v":6},{"t":50552,"v":4},{"t":50558,"v":20},{"t":50564,"v":40},{"t":50568,"v":15},{"t":50574,"v":30},{"t":50580,"v":10},{"t":50586,"v":25},{"t":50592,"v":8},{"t":50600,"v":10},{"t":50606,"v":6},{"t":50612,"v":5},{"t":50620,"v":4},{"t":50628,"v":8},{"t":50636,"v":5},{"t":50644,"v":3},{"t":50652,"v":6},{"t":50660,"v":15},{"t":50666,"v":30},{"t":50672,"v":45},{"t":50678,"v":65},{"t":50684,"v":40},{"t":50690,"v":55},{"t":50696,"v":70},{"t":50702,"v":50},{"t":50708,"v":60},{"t":50714,"v":40},{"t":50740,"v":220},{"t":50748,"v":35},{"t":50754,"v":30},{"t":50760,"v":20},{"t":50766,"v":25},{"t":50772,"v":12},{"t":50778,"v":15},{"t":50784,"v":8},{"t":50790,"v":6},{"t":50796,"v":4},{"t":50804,"v":5},{"t":50812,"v":3},{"t":50820,"v":6},{"t":50828,"v":4},{"t":50836,"v":5},{"t":50844,"v":3},{"t":50852,"v":6},{"t":50860,"v":4},{"t":50868,"v":5},{"t":50876,"v":3},{"t":50884,"v":6},{"t":50890,"v":10},{"t":50896,"v":40},{"t":50900,"v":90},{"t":50906,"v":120},{"t":50912,"v":150},{"t":50918,"v":130},{"t":50923,"v":210},{"t":50928,"v":140},{"t":50934,"v":120},{"t":50940,"v":100},{"t":50946,"v":110},{"t":50952,"v":95},{"t":50958,"v":85},{"t":50964,"v":70},{"t":50970,"v":60},{"t":50976,"v":45},{"t":50982,"v":35},{"t":50988,"v":25},{"t":50994,"v":18},{"t":51000,"v":12},{"t":51006,"v":8},{"t":51012,"v":10},{"t":51018,"v":6},{"t":51024,"v":5},{"t":51030,"v":8},{"t":51036,"v":4},{"t":51042,"v":6},{"t":51048,"v":5},{"t":51054,"v":7},{"t":51060,"v":4},{"t":51066,"v":6},{"t":51072,"v":3},{"t":51078,"v":5},{"t":51084,"v":4},{"t":51090,"v":6},{"t":51096,"v":5},{"t":51102,"v":8},{"t":51108,"v":6},{"t":51114,"v":10},{"t":51120,"v":8},{"t":51126,"v":12},{"t":51132,"v":9},{"t":51138,"v":14},{"t":51144,"v":10},{"t":51150,"v":50},{"t":51154,"v":12},{"t":51160,"v":8},{"t":51166,"v":10},{"t":51172,"v":6},{"t":51178,"v":30},{"t":51182,"v":8},{"t":51188,"v":5},{"t":51194,"v":60},{"t":51198,"v":10},{"t":51204,"v":7},{"t":51210,"v":110},{"t":51214,"v":8},{"t":51220,"v":5},{"t":51226,"v":4},{"t":51232,"v":6},{"t":51238,"v":3},{"t":51244,"v":5},{"t":51250,"v":8},{"t":51256,"v":30},{"t":51262,"v":6},{"t":51268,"v":4},{"t":51274,"v":6},{"t":51280,"v":3},{"t":51286,"v":5},{"t":51292,"v":15},{"t":51298,"v":35},{"t":51304,"v":60},{"t":51310,"v":40},{"t":51316,"v":80},{"t":51320,"v":50},{"t":51326,"v":100},{"t":51332,"v":190},{"t":51336,"v":90},{"t":51342,"v":70},{"t":51348,"v":85},{"t":51354,"v":50},{"t":51360,"v":40},{"t":51366,"v":25},{"t":51372,"v":20},{"t":51378,"v":12},{"t":51384,"v":8},{"t":51390,"v":6},{"t":51396,"v":5},{"t":51402,"v":8},{"t":51408,"v":4},{"t":51414,"v":6},{"t":51420,"v":5},{"t":51426,"v":3},{"t":51432,"v":6},{"t":51438,"v":4},{"t":51444,"v":8},{"t":51450,"v":20},{"t":51456,"v":10},{"t":51462,"v":5},{"t":51470,"v":3},{"t":51478,"v":6},{"t":51484,"v":40},{"t":51487,"v":170},{"t":51492,"v":60},{"t":51498,"v":80},{"t":51504,"v":55},{"t":51510,"v":70},{"t":51516,"v":45},{"t":51522,"v":60},{"t":51528,"v":35},{"t":51534,"v":50},{"t":51540,"v":28},{"t":51546,"v":40},{"t":51552,"v":20},{"t":51558,"v":30},{"t":51564,"v":15},{"t":51570,"v":22},{"t":51576,"v":10},{"t":51582,"v":15},{"t":51588,"v":8},{"t":51594,"v":10},{"t":51600,"v":5},{"t":51606,"v":8},{"t":51612,"v":4},{"t":51618,"v":6},{"t":51624,"v":3},{"t":51630,"v":5},{"t":51636,"v":7},{"t":51642,"v":4},{"t":51650,"v":6},{"t":51658,"v":3},{"t":51666,"v":5},{"t":51674,"v":4},{"t":51682,"v":6},{"t":51690,"v":3},{"t":51698,"v":8},{"t":51706,"v":4},{"t":51714,"v":6},{"t":51722,"v":3},{"t":51730,"v":5},{"t":51738,"v":4},{"t":51746,"v":8},{"t":51754,"v":30},{"t":51758,"v":10},{"t":51764,"v":20},{"t":51770,"v":8},{"t":51776,"v":12},{"t":51782,"v":6},{"t":51788,"v":5},{"t":51794,"v":7},{"t":51800,"v":4},{"t":51806,"v":10},{"t":51812,"v":25},{"t":51818,"v":60},{"t":51822,"v":130},{"t":51826,"v":70},{"t":51830,"v":50},{"t":51836,"v":40},{"t":51842,"v":30},{"t":51848,"v":45},{"t":51854,"v":20},{"t":51860,"v":25},{"t":51866,"v":15},{"t":51872,"v":10},{"t":51878,"v":18},{"t":51884,"v":8},{"t":51890,"v":12},{"t":51896,"v":5},{"t":51902,"v":70},{"t":51906,"v":10},{"t":51912,"v":8},{"t":51918,"v":15},{"t":51924,"v":6},{"t":51930,"v":10},{"t":51936,"v":5},{"t":51942,"v":40},{"t":51946,"v":8},{"t":51952,"v":12},{"t":51958,"v":6},{"t":51964,"v":15},{"t":51970,"v":8},{"t":51976,"v":10},{"t":51982,"v":90},{"t":51986,"v":12},{"t":51992,"v":20},{"t":51998,"v":8},{"t":52004,"v":15},{"t":52010,"v":10},{"t":52016,"v":18},{"t":52022,"v":12},{"t":52028,"v":50},{"t":52032,"v":15},{"t":52038,"v":20},{"t":52044,"v":10},{"t":52050,"v":25},{"t":52056,"v":12},{"t":52062,"v":130},{"t":52066,"v":15},{"t":52072,"v":20},{"t":52078,"v":10},{"t":52084,"v":18},{"t":52090,"v":8},{"t":52096,"v":12},{"t":52102,"v":60},{"t":52106,"v":10},{"t":52112,"v":15},{"t":52118,"v":8},{"t":52124,"v":12},{"t":52130,"v":6},{"t":52136,"v":10},{"t":52142,"v":80},{"t":52146,"v":8},{"t":52152,"v":12},{"t":52158,"v":6},{"t":52164,"v":10},{"t":52170,"v":5},{"t":52176,"v":8},{"t":52182,"v":100},{"t":52186,"v":10},{"t":52192,"v":15},{"t":52198,"v":8},{"t":52204,"v":20},{"t":52210,"v":12},{"t":52216,"v":30},{"t":52222,"v":15},{"t":52228,"v":40},{"t":52234,"v":20},{"t":52240,"v":60},{"t":52246,"v":30},{"t":52252,"v":80},{"t":52258,"v":50},{"t":52264,"v":110},{"t":52270,"v":70},{"t":52276,"v":140},{"t":52282,"v":100},{"t":52288,"v":170},{"t":52294,"v":130},{"t":52300,"v":190},{"t":52306,"v":150},{"t":52312,"v":170},{"t":52318,"v":140},{"t":52324,"v":160},{"t":52330,"v":120},{"t":52336,"v":130},{"t":52342,"v":100},{"t":52348,"v":110},{"t":52354,"v":85},{"t":52360,"v":95},{"t":52366,"v":70},{"t":52372,"v":80},{"t":52378,"v":60},{"t":52384,"v":75},{"t":52390,"v":50},{"t":52396,"v":55},{"t":52402,"v":40},{"t":52408,"v":45},{"t":52414,"v":32},{"t":52420,"v":38},{"t":52426,"v":25},{"t":52432,"v":30},{"t":52438,"v":20},{"t":52444,"v":28},{"t":52450,"v":15},{"t":52456,"v":22},{"t":52462,"v":12},{"t":52468,"v":18},{"t":52474,"v":10},{"t":52480,"v":15},{"t":52486,"v":8},{"t":52492,"v":12},{"t":52498,"v":10},{"t":52504,"v":60},{"t":52508,"v":15},{"t":52514,"v":8},{"t":52520,"v":12},{"t":52526,"v":6},{"t":52532,"v":10},{"t":52538,"v":40},{"t":52542,"v":8},{"t":52548,"v":12},{"t":52554,"v":6},{"t":52560,"v":10},{"t":52566,"v":5},{"t":52572,"v":8},{"t":52578,"v":4},{"t":52584,"v":6},{"t":52590,"v":30},{"t":52594,"v":5},{"t":52600,"v":8},{"t":52606,"v":4},{"t":52612,"v":6},{"t":52618,"v":3},{"t":52624,"v":15},{"t":52630,"v":5},{"t":52636,"v":8},{"t":52642,"v":4},{"t":52648,"v":6},{"t":52654,"v":10},{"t":52660,"v":5},{"t":52666,"v":15},{"t":52672,"v":8},{"t":52678,"v":30},{"t":52684,"v":60},{"t":52690,"v":100},{"t":52696,"v":140},{"t":52700,"v":180},{"t":52704,"v":215},{"t":52708,"v":160},{"t":52714,"v":190},{"t":52720,"v":140},{"t":52726,"v":160},{"t":52732,"v":120},{"t":52738,"v":100},{"t":52746,"v":90},{"t":52752,"v":70},{"t":52758,"v":80},{"t":52764,"v":60},{"t":52770,"v":50},{"t":52776,"v":40},{"t":52782,"v":45},{"t":52788,"v":30},{"t":52794,"v":35},{"t":52800,"v":20},{"t":52806,"v":25},{"t":52812,"v":15},{"t":52818,"v":18},{"t":52824,"v":10},{"t":52830,"v":12},{"t":52836,"v":8},{"t":52842,"v":10},{"t":52848,"v":6},{"t":52854,"v":9},{"t":52860,"v":5},{"t":52866,"v":8},{"t":52872,"v":4},{"t":52878,"v":6},{"t":52884,"v":3},{"t":52890,"v":5},{"t":52896,"v":8},{"t":52902,"v":4},{"t":52908,"v":6},{"t":52914,"v":3},{"t":52920,"v":5},{"t":52926,"v":20},{"t":52930,"v":4},{"t":52936,"v":6},{"t":52942,"v":3},{"t":52948,"v":5},{"t":52954,"v":4},{"t":52960,"v":6},{"t":52966,"v":50},{"t":52970,"v":5},{"t":52976,"v":8},{"t":52982,"v":4},{"t":52988,"v":10},{"t":52994,"v":6},{"t":53000,"v":30},{"t":53004,"v":8},{"t":53010,"v":12},{"t":53016,"v":10},{"t":53022,"v":25},{"t":53028,"v":40},{"t":53034,"v":80},{"t":53040,"v":110},{"t":53046,"v":150},{"t":53052,"v":120},{"t":53058,"v":140},{"t":53064,"v":110},{"t":53070,"v":100},{"t":53076,"v":120},{"t":53082,"v":90},{"t":53088,"v":100},{"t":53094,"v":75},{"t":53100,"v":85},{"t":53106,"v":60},{"t":53112,"v":70},{"t":53118,"v":50},{"t":53124,"v":55},{"t":53130,"v":40},{"t":53136,"v":45},{"t":53142,"v":30},{"t":53148,"v":38},{"t":53154,"v":25},{"t":53160,"v":30},{"t":53166,"v":20},{"t":53172,"v":25},{"t":53178,"v":15},{"t":53184,"v":20},{"t":53190,"v":12},{"t":53196,"v":16},{"t":53202,"v":10},{"t":53208,"v":30},{"t":53212,"v":12},{"t":53218,"v":8},{"t":53224,"v":10},{"t":53230,"v":6},{"t":53236,"v":8},{"t":53242,"v":5},{"t":53248,"v":7},{"t":53254,"v":4},{"t":53260,"v":6},{"t":53266,"v":30},{"t":53270,"v":5},{"t":53276,"v":8},{"t":53282,"v":4},{"t":53288,"v":6},{"t":53294,"v":3},{"t":53300,"v":5},{"t":53306,"v":8},{"t":53312,"v":4},{"t":53318,"v":6},{"t":53324,"v":3},{"t":53330,"v":5},{"t":53336,"v":4},{"t":53342,"v":6},{"t":53348,"v":10},{"t":53354,"v":5},{"t":53360,"v":8},{"t":53366,"v":20},{"t":53372,"v":10},{"t":53378,"v":6},{"t":53384,"v":12},{"t":53390,"v":30},{"t":53396,"v":60},{"t":53402,"v":100},{"t":53408,"v":150},{"t":53412,"v":200},{"t":53416,"v":170},{"t":53422,"v":190},{"t":53428,"v":150},{"t":53434,"v":160},{"t":53440,"v":130},{"t":53446,"v":120},{"t":53452,"v":100},{"t":53458,"v":90},{"t":53464,"v":75},{"t":53470,"v":60},{"t":53476,"v":50},{"t":53482,"v":40},{"t":53488,"v":45},{"t":53494,"v":30},{"t":53500,"v":35},{"t":53506,"v":22},{"t":53512,"v":25},{"t":53518,"v":15},{"t":53524,"v":18},{"t":53530,"v":10},{"t":53536,"v":12},{"t":53542,"v":8},{"t":53548,"v":6},{"t":53554,"v":8},{"t":53560,"v":4},{"t":53566,"v":6},{"t":53572,"v":3},{"t":53578,"v":5},{"t":53584,"v":4},{"t":53590,"v":6},{"t":53596,"v":3},{"t":53602,"v":5},{"t":53608,"v":4},{"t":53614,"v":6},{"t":53620,"v":3},{"t":53626,"v":5},{"t":53632,"v":8},{"t":53638,"v":15},{"t":53642,"v":60},{"t":53645,"v":170},{"t":53648,"v":90},{"t":53654,"v":30},{"t":53660,"v":15},{"t":53666,"v":8},{"t":53672,"v":20},{"t":53678,"v":10},{"t":53684,"v":40},{"t":53690,"v":20},{"t":53696,"v":60},{"t":53702,"v":30},{"t":53708,"v":80},{"t":53714,"v":45},{"t":53720,"v":65},{"t":53726,"v":30},{"t":53732,"v":50},{"t":53738,"v":20},{"t":53744,"v":35},{"t":53750,"v":12},{"t":53756,"v":25},{"t":53762,"v":8},{"t":53768,"v":15},{"t":53774,"v":40},{"t":53780,"v":20},{"t":53786,"v":55},{"t":53792,"v":30},{"t":53798,"v":45}],
"radr": [{"t":50712,"v":88},{"t":50716,"v":84},{"t":50719,"v":78},{"t":50722,"v":74},{"t":50725,"v":70},{"t":50728,"v":66},{"t":50731,"v":62},{"t":50734,"v":80},{"t":50737,"v":72},{"t":50740,"v":65},{"t":50900,"v":115},{"t":50934,"v":125},{"t":50960,"v":125},{"t":50940,"v":105},{"t":50944,"v":95},{"t":50948,"v":88},{"t":50952,"v":80},{"t":52306,"v":125},{"t":52317,"v":120},{"t":52323,"v":110},{"t":52332,"v":112},{"t":52339,"v":135},{"t":52328,"v":100},{"t":52334,"v":90},{"t":52341,"v":82},{"t":52383,"v":100},{"t":52385,"v":90},{"t":52390,"v":82},{"t":52394,"v":72},{"t":52733,"v":150},{"t":52737,"v":142},{"t":52739,"v":130},{"t":52760,"v":107},{"t":52775,"v":77},{"t":53069,"v":120},{"t":53076,"v":102},{"t":53085,"v":95},{"t":53098,"v":87},{"t":53107,"v":85},{"t":53118,"v":87},{"t":53091,"v":82},{"t":53446,"v":140},{"t":53457,"v":132},{"t":53450,"v":122},{"t":53461,"v":112},{"t":53442,"v":118},{"t":53448,"v":82},{"t":53450,"v":67}],
"lab1": [{"t":53726,"v":2.39,"s":"X-ray: Colour/Hardness ratio"}],
"lab2": [{"t":53720,"v":186,"s":"X-ray: RXTE-ASM (2-12 keV)"}],
"lab3": [{"t":53765,"v":220,"s":"Radio: Ryle telescope (15 GHz)"}]
},
"vconcat": [
{
  "width": 572, "height": 99,
  "encoding": {
    "x": {"field": "t", "type": "quantitative", "scale": {"domain": [50000, 53800], "nice": false, "zero": false},
      "axis": {"title": null, "labels": false, "labelPadding": 0, "values": [50000,50100,50200,50300,50400,50500,50600,50700,50800,50900,51000,51100,51200,51300,51400,51500,51600,51700,51800,51900,52000,52100,52200,52300,52400,52500,52600,52700,52800,52900,53000,53100,53200,53300,53400,53500,53600,53700,53800],
        "tickSize": {"condition": {"test": "datum.value % 500 === 0", "value": -5}, "value": -2.5}}},
    "y": {"field": "v", "type": "quantitative", "scale": {"domain": [0.5, 2.6], "nice": false, "zero": false},
      "axis": {"title": "HR2", "values": [0.8,1,1.2,1.4,1.6,1.8,2,2.2,2.4,2.6], "format": ".1~f", "tickSize": -4, "labelPadding": 7, "titlePadding": 2}}
  },
  "layer": [
    {"data": {"name": "hr"}, "mark": {"type": "point", "shape": "square", "filled": true, "size": 3, "color": "#5a5a5a", "opacity": 1}},
    {"data": {"name": "hrr"}, "mark": {"type": "circle", "size": 16, "color": "#ff0000", "opacity": 1}},
    {"data": {"name": "lab1"}, "mark": {"type": "text", "align": "right", "baseline": "middle", "font": "Liberation Serif", "fontStyle": "italic", "fontSize": 11, "color": "#111"}, "encoding": {"text": {"field": "s"}}}
  ]
},
{
  "width": 572, "height": 107,
  "encoding": {
    "x": {"field": "t", "type": "quantitative", "scale": {"domain": [50000, 53800], "nice": false, "zero": false},
      "axis": {"title": null, "labels": false, "labelPadding": 0, "values": [50000,50100,50200,50300,50400,50500,50600,50700,50800,50900,51000,51100,51200,51300,51400,51500,51600,51700,51800,51900,52000,52100,52200,52300,52400,52500,52600,52700,52800,52900,53000,53100,53200,53300,53400,53500,53600,53700,53800],
        "tickSize": {"condition": {"test": "datum.value % 500 === 0", "value": -5}, "value": -2.5}}},
    "y": {"field": "v", "type": "quantitative", "scale": {"domain": [0, 210], "nice": false, "zero": false},
      "axis": {"title": "ASM (Counts/second)", "values": [20,40,60,80,100,120,140,160,180], "tickSize": -4, "labelPadding": 7, "titlePadding": 2}}
  },
  "layer": [
    {"data": {"name": "asm"}, "mark": {"type": "point", "shape": "cross", "filled": true, "size": 4, "color": "#3030ff", "opacity": 0.85}},
    {"data": {"name": "asmr"}, "mark": {"type": "circle", "size": 16, "color": "#ff0000", "opacity": 1}},
    {"data": {"name": "lab2"}, "mark": {"type": "text", "align": "right", "baseline": "middle", "font": "Liberation Serif", "fontStyle": "italic", "fontSize": 11, "color": "#111"}, "encoding": {"text": {"field": "s"}}}
  ]
},
{
  "width": 572, "height": 86,
  "encoding": {
    "x": {"field": "t", "type": "quantitative", "scale": {"domain": [50000, 53800], "nice": false, "zero": false},
      "axis": {"title": "Date (MJD)", "format": "d", "values": [50000,50100,50200,50300,50400,50500,50600,50700,50800,50900,51000,51100,51200,51300,51400,51500,51600,51700,51800,51900,52000,52100,52200,52300,52400,52500,52600,52700,52800,52900,53000,53100,53200,53300,53400,53500,53600,53700,53800],
        "labelExpr": "datum.value % 500 === 0 ? datum.label : ''",
        "tickSize": {"condition": {"test": "datum.value % 500 === 0", "value": -5}, "value": -2.5}, "labelPadding": 7, "titlePadding": 1}},
    "y": {"field": "v", "type": "quantitative", "scale": {"domain": [-8, 250], "nice": false, "zero": false},
      "axis": {"title": "Flux Density (mJy)", "values": [0,50,100,150,200,250], "tickSize": -4, "labelPadding": 7, "titlePadding": 2}}
  },
  "layer": [
    {"data": {"name": "rad"}, "mark": {"type": "line", "color": "#a8a8a8", "strokeWidth": 0.6}},
    {"data": {"name": "rad"}, "mark": {"type": "point", "shape": "square", "filled": true, "size": 2.5, "color": "#111", "opacity": 1}},
    {"data": {"name": "radr"}, "mark": {"type": "circle", "size": 16, "color": "#ff0000", "opacity": 1}},
    {"data": {"name": "lab3"}, "mark": {"type": "text", "align": "right", "baseline": "middle", "font": "Liberation Serif", "fontStyle": "italic", "fontSize": 11, "color": "#111"}, "encoding": {"text": {"field": "s"}}}
  ]
}
]
}
